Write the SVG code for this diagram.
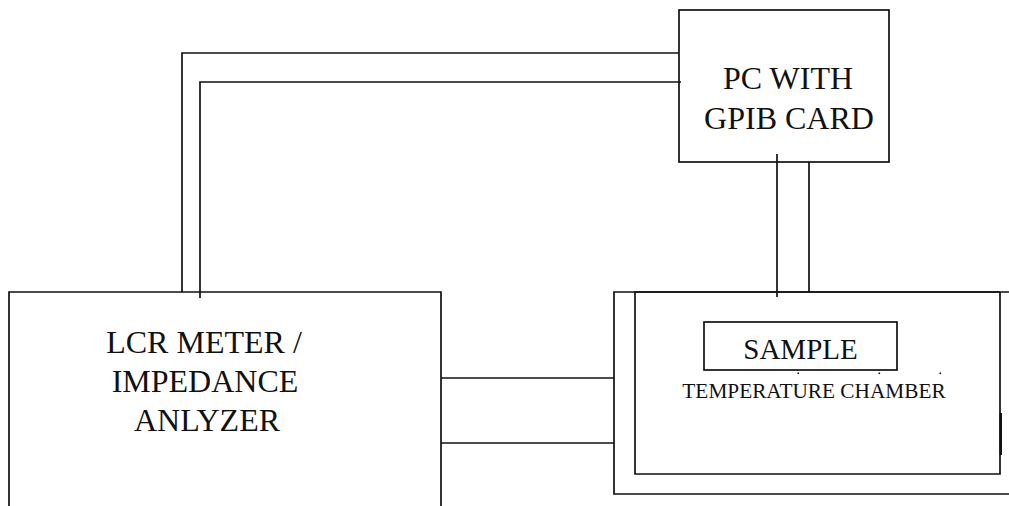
<svg xmlns="http://www.w3.org/2000/svg" width="1009" height="506" viewBox="0 0 1009 506">
<style>
.ln{fill:none;stroke:#111;stroke-width:1.7}
.t{fill:#111;text-anchor:middle;font-family:'Times New Roman','Liberation Serif',Times,'DejaVu Serif',serif}
</style>
<rect width="1009" height="506" fill="#fff"/>
<g id="connectors">
<polyline class="ln" points="182,292 182,53 679,53"/>
<polyline class="ln" points="200,298 200,82 681,82"/>
<line class="ln" x1="777" y1="154" x2="777" y2="297"/>
<line class="ln" x1="809" y1="162" x2="809" y2="292"/>
<line class="ln" x1="441" y1="378" x2="614" y2="378"/>
<line class="ln" x1="441" y1="443" x2="614" y2="443"/>
</g>
<g id="pc">
<rect class="ln" x="679" y="10" width="210" height="152"/>
<text class="t" x="788" y="89" font-size="32">PC WITH</text>
<text class="t" x="789" y="129" font-size="32">GPIB CARD</text>
</g>
<g id="lcr">
<polyline class="ln" points="9,506 9,292 441,292 441,506"/>
<text class="t" x="204" y="353" font-size="32">LCR METER /</text>
<text class="t" x="205" y="392" font-size="32">IMPEDANCE</text>
<text class="t" x="207" y="431" font-size="32">ANLYZER</text>
</g>
<g id="chamber">
<polyline class="ln" points="1009,292 614,292 614,494 1009,494"/>
<polyline class="ln" points="1000,292 635,292 635,474 1000,474 1000,292"/>
<line x1="1000.8" y1="413" x2="1000.8" y2="455" stroke="#111" stroke-width="2.4"/>
<text class="t" x="814" y="398" font-size="21.3">TEMPERATURE CHAMBER</text>
<rect x="797.5" y="372.5" width="1.6" height="1.6" fill="#111"/>
<rect x="878.5" y="372.5" width="1.6" height="1.6" fill="#111"/>
<rect x="939.5" y="372.5" width="1.6" height="1.6" fill="#111"/>
</g>
<g id="sample">
<rect class="ln" x="704" y="322" width="193" height="48"/>
<text class="t" x="800.5" y="359" font-size="29">SAMPLE</text>
</g>
</svg>
